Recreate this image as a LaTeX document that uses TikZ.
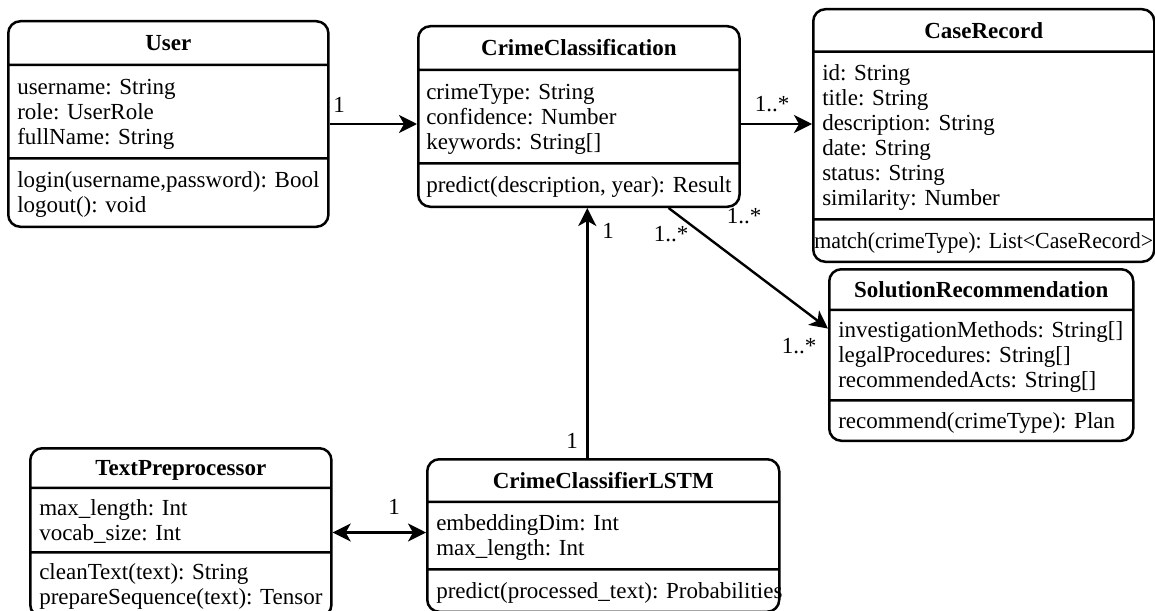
\documentclass[tikz,border=0pt]{standalone}
\usepackage{fontspec}
\setmainfont{Liberation Serif}
\usepackage{graphicx}
\usetikzlibrary{positioning, arrows.meta, calc, shapes.multipart}

\newcommand{\rowstrut}{\rule[-5pt]{0pt}{25pt}}

\begin{document}
\begin{tikzpicture}[
  x=1pt, y=-1pt,
  font=\fontsize{23pt}{25pt}\selectfont,
  cls/.style={draw, line width=2.5pt, rounded corners=12pt, anchor=north west,
              rectangle split, rectangle split parts=3,
              rectangle split part align={center,left,left},
              align=left, inner xsep=9pt, inner ysep=7.5pt},
  assoc/.style={-{Stealth[length=18pt, width=18pt, inset=5pt]}, line width=2.4pt},
  both/.style={{Stealth[length=18pt, width=18pt, inset=5pt]}-{Stealth[length=18pt, width=18pt, inset=5pt]},
               line width=2.4pt},
  mult/.style={inner sep=0pt},
]
\useasboundingbox (0,0) rectangle (1155,610);

% Classes
\node[cls, minimum width=319pt, inner ysep=8pt] (user) at (7,20)
  {\rowstrut\textbf{User}
   \nodepart{two}\rowstrut username: String\\role: UserRole\\fullName: String\rowstrut
   \nodepart{three}\rowstrut login(username,password): Bool\\logout(): void\rowstrut};

\node[cls, minimum width=319pt, inner xsep=8pt, inner ysep=8pt] (cc) at (417,25)
  {\rowstrut\textbf{CrimeClassification}
   \nodepart{two}\rowstrut crimeType: String\\confidence: Number\\keywords: String[]\rowstrut
   \nodepart{three}\rowstrut predict(description, year): Result};

\node[cls, minimum width=341pt] (case) at (812,8)
  {\rowstrut\textbf{CaseRecord}
   \nodepart{two}\rowstrut id: String\\title: String\\description: String\\date: String\\status: String\\similarity: Number\rowstrut
   \nodepart{three}\rowstrut\makebox[323pt][c]{\scalebox{0.95}[1]{match(crimeType): List<CaseRecord>}}};

\node[cls, minimum width=304pt, inner ysep=6.5pt] (sol) at (828,268)
  {\rowstrut\textbf{SolutionRecommendation}
   \nodepart{two}\rowstrut investigationMethods: String[]\\legalProcedures: String[]\\recommendedActs: String[]\rowstrut
   \nodepart{three}\rowstrut recommend(crimeType): Plan};

\node[cls, minimum width=301pt, inner ysep=6pt] (tp) at (29,447)
  {\rowstrut\textbf{TextPreprocessor}
   \nodepart{two}\rowstrut max\_length: Int\\vocab\_size: Int\rowstrut
   \nodepart{three}\rowstrut cleanText(text): String\\prepareSequence(text): Tensor\rowstrut};

\node[cls, minimum width=352pt] (lstm) at (426,458)
  {\rowstrut\textbf{CrimeClassifierLSTM}
   \nodepart{two}\rowstrut embeddingDim: Int\\max\_length: Int\rowstrut
   \nodepart{three}\rowstrut\makebox[334pt][l]{predict(processed\_text): Probabilities}};

% Associations
\draw[assoc] (user.east) -- (user.east -| cc.west);
\draw[assoc] (user.east -| cc.east) -- (user.east -| case.west);

\coordinate (lstmtop) at ($(lstm.north west)!0.455!(lstm.north east)$);
\draw[assoc] (lstmtop) -- (lstmtop |- cc.south);

\coordinate (ccfoot) at ($(cc.south west)!0.777!(cc.south east)$);
\coordinate (solside) at ($(sol.north west)!0.348!(sol.south west)$);
\draw[assoc] (ccfoot) -- (solside);

\draw[both] (tp.east) -- (tp.east -| lstm.west);

% Multiplicities
\node[mult] (m1) at (339,105) {1};
\node[mult] (m2) at (772,104) {1..*};
\node[mult] (m3) at (608,231) {1};
\node[mult] (m4) at (671,234) {1..*};
\node[mult] (m5) at (744,216) {1..*};
\node[mult] (m6) at (799,346) {1..*};
\node[mult] (m7) at (572,441) {1};
\node[mult] (m8) at (394,507) {1};
\end{tikzpicture}
\end{document}
